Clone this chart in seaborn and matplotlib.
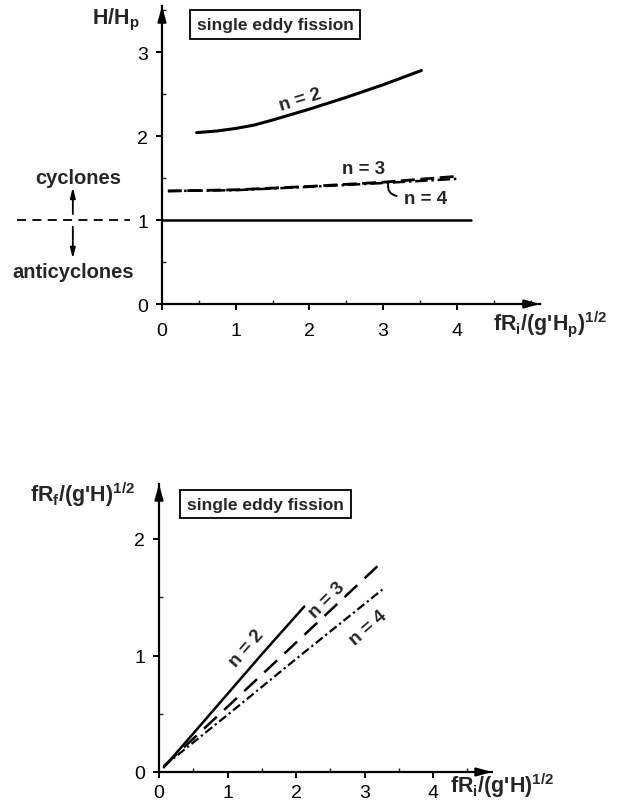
import matplotlib
matplotlib.use("Agg")
import matplotlib.pyplot as plt
import seaborn as sns
import pandas as pd
from matplotlib.ticker import MultipleLocator

# ---------------- data ----------------
# top panel: H/Hp vs fRi/(g'Hp)^1/2
top_n2_x = [0.47, 0.75, 1.0, 1.25, 1.5, 2.0, 2.5, 3.0, 3.52]
top_n2_y = [2.04, 2.06, 2.09, 2.13, 2.19, 2.32, 2.46, 2.61, 2.78]
top_n3_x = [0.08, 1.0, 2.0, 3.0, 4.0]
top_n3_y = [1.345, 1.36, 1.40, 1.45, 1.52]
top_n4_x = [0.08, 1.0, 2.0, 3.0, 4.0]
top_n4_y = [1.345, 1.355, 1.395, 1.44, 1.49]
top_ref_x = [0.0, 4.19]
top_ref_y = [1.0, 1.0]

# bottom panel: fRf/(g'H)^1/2 vs fRi/(g'H)^1/2
bot_n2_x = [0.07, 0.5, 1.0, 1.5, 2.12]
bot_n2_y = [0.04, 0.33, 0.67, 1.01, 1.42]
bot_n3_x = [0.07, 1.0, 2.0, 3.25]
bot_n3_y = [0.05, 0.56, 1.11, 1.80]
bot_n4_x = [0.07, 1.0, 2.0, 3.27]
bot_n4_y = [0.05, 0.49, 0.97, 1.57]

top_xticks = [0, 1, 2, 3, 4]
top_yticks = [0, 1, 2, 3]
bot_xticks = [0, 1, 2, 3, 4]
bot_yticks = [0, 1, 2]

sns.set_style("ticks")
plt.rcParams["font.family"] = ["Liberation Sans", "DejaVu Sans"]
plt.rcParams["mathtext.fontset"] = "custom"
plt.rcParams["mathtext.rm"] = "Liberation Sans:bold"
plt.rcParams["mathtext.it"] = "Liberation Sans:bold"
plt.rcParams["mathtext.bf"] = "Liberation Sans:bold"
plt.rcParams["mathtext.default"] = "rm"

W, H = 618, 804
fig = plt.figure(figsize=(W / 100, H / 100), dpi=100)

LABEL_FS = 15.5


def px_axes(x0, y0, x1, y1):
    # x0: left px, y0: bottom px (from top), x1: right px, y1: top px
    return fig.add_axes([x0 / W, 1 - y0 / H, (x1 - x0) / W, (y0 - y1) / H])


def style_axes(ax, xlim, ylim, xt, yt, xpad, ypad):
    ax.set_xlim(*xlim)
    ax.set_ylim(*ylim)
    for s in ["top", "right"]:
        ax.spines[s].set_visible(False)
    for s in ["left", "bottom"]:
        ax.spines[s].set_linewidth(1.6)
        ax.spines[s].set_color("black")
    ax.set_xticks(xt)
    ax.set_yticks(yt)
    ax.xaxis.set_minor_locator(MultipleLocator(0.5))
    ax.yaxis.set_minor_locator(MultipleLocator(0.5))
    ax.tick_params(which="major", direction="out", length=4, width=1.4,
                   labelsize=14, colors="black")
    ax.tick_params(axis="x", which="major", pad=xpad)
    ax.tick_params(axis="y", which="major", pad=ypad)
    ax.tick_params(which="minor", direction="in", length=3, width=1.0)
    ax.set_xlabel("")
    ax.set_ylabel("")
    ax.patch.set_alpha(0)
    # arrowheads
    ax.annotate("", xy=(1.0, 0), xytext=(0.95, 0), xycoords="axes fraction",
                arrowprops=dict(arrowstyle="-|>,head_length=0.9,head_width=0.25",
                                color="black", lw=1.6, shrinkA=0, shrinkB=0),
                annotation_clip=False)
    ax.annotate("", xy=(0, 1.0), xytext=(0, 0.95), xycoords="axes fraction",
                arrowprops=dict(arrowstyle="-|>,head_length=0.9,head_width=0.25",
                                color="black", lw=1.6, shrinkA=0, shrinkB=0),
                annotation_clip=False)


# ---------------- top panel ----------------
ax1 = px_axes(162, 305, 540, 7)
u1 = 73.7
v1 = 84.0
style_axes(ax1, (0, (540 - 162) / u1), (0, (305 - 7) / v1),
           top_xticks, top_yticks, xpad=9, ypad=6)

sns.lineplot(x=top_ref_x, y=top_ref_y, ax=ax1, color="black", lw=1.8,
             sort=False, clip_on=False)
sns.lineplot(x=top_n2_x, y=top_n2_y, ax=ax1, color="black", lw=2.2)
sns.lineplot(x=top_n3_x, y=top_n3_y, ax=ax1, color="black", lw=2.0,
             linestyle=(0, (5, 2)))
sns.lineplot(x=top_n4_x, y=top_n4_y, ax=ax1, color="black", lw=1.8,
             linestyle=(0, (5, 1.5, 1, 1.5)))

ax1.text(1.87, 2.43, "n = 2", rotation=17, ha="center", va="center",
         fontsize=13.5, fontweight="bold")
ax1.text(2.74, 1.61, "n = 3", ha="center", va="center",
         fontsize=13.5, fontweight="bold")
ax1.text(3.57, 1.26, "n = 4", ha="center", va="center",
         fontsize=13.5, fontweight="bold")
ax1.annotate("", xy=(3.22, 1.28), xytext=(3.08, 1.47),
             arrowprops=dict(arrowstyle="-", color="black", lw=1.4,
                             connectionstyle="arc3,rad=0.6"))

ax1.text(0.47, 3.33, "single eddy fission", ha="left", va="center",
         fontsize=12.5, fontweight="bold",
         bbox=dict(boxstyle="square,pad=0.4", fc="white", ec="black", lw=1.3))

# left-hand cyclone/anticyclone annotation
ax1.plot([-1.97, -0.44], [1.0, 1.0], color="black", lw=1.3,
         linestyle=(0, (5, 3.5)), clip_on=False)
ax1.annotate("", xy=(-1.21, 1.39), xytext=(-1.21, 1.07),
             arrowprops=dict(arrowstyle="-|>,head_length=0.6,head_width=0.15",
                             color="black", lw=1.3, shrinkA=0, shrinkB=0),
             annotation_clip=False)
ax1.annotate("", xy=(-1.21, 0.54), xytext=(-1.21, 0.92),
             arrowprops=dict(arrowstyle="-|>,head_length=0.6,head_width=0.15",
                             color="black", lw=1.3, shrinkA=0, shrinkB=0),
             annotation_clip=False)
ax1.text(-1.14, 1.51, "cyclones", ha="center", va="center",
         fontsize=14.5, fontweight="bold", clip_on=False)
ax1.text(-1.21, 0.39, "anticyclones", ha="center", va="center",
         fontsize=14.5, fontweight="bold", clip_on=False)

ax1.text(4.49, -0.30, r"fR$_i$/(g'H$_p$)$^{1/2}$", ha="left", va="baseline",
         fontsize=LABEL_FS, fontweight="bold", clip_on=False)
fig.text(140 / W, 1 - 20 / H, r"H/H$_p$", ha="right", va="center",
         fontsize=LABEL_FS, fontweight="bold")

# ---------------- bottom panel ----------------
ax2 = px_axes(159, 773, 492, 485)
u2 = 68.5
v2 = 116.5
style_axes(ax2, (0, (492 - 159) / u2), (0, (773 - 485) / v2),
           bot_xticks, bot_yticks, xpad=5, ypad=6)

sns.lineplot(x=bot_n2_x, y=bot_n2_y, ax=ax2, color="black", lw=1.8)
sns.lineplot(x=bot_n3_x, y=bot_n3_y, ax=ax2, color="black", lw=1.8,
             linestyle=(0, (7, 4)))
sns.lineplot(x=bot_n4_x, y=bot_n4_y, ax=ax2, color="black", lw=1.6,
             linestyle=(0, (4, 1.5, 1, 1.5)))

ax2.text(1.28, 1.07, "n = 2", rotation=49, ha="center", va="center",
         fontsize=13.5, fontweight="bold")
ax2.text(2.45, 1.48, "n = 3", rotation=45, ha="center", va="center",
         fontsize=13.5, fontweight="bold")
ax2.text(3.05, 1.24, "n = 4", rotation=41, ha="center", va="center",
         fontsize=13.5, fontweight="bold")

ax2.text(0.41, 2.30, "single eddy fission", ha="left", va="center",
         fontsize=12.5, fontweight="bold",
         bbox=dict(boxstyle="square,pad=0.4", fc="white", ec="black", lw=1.3))

ax2.text(4.25, -0.175, r"fR$_i$/(g'H)$^{1/2}$", ha="left", va="baseline",
         fontsize=LABEL_FS, fontweight="bold", clip_on=False)
fig.text(135 / W, 1 - 495 / H, r"fR$_f$/(g'H)$^{1/2}$", ha="right",
         va="center", fontsize=LABEL_FS, fontweight="bold")

fig.savefig("out.png", dpi=100, facecolor="white")
